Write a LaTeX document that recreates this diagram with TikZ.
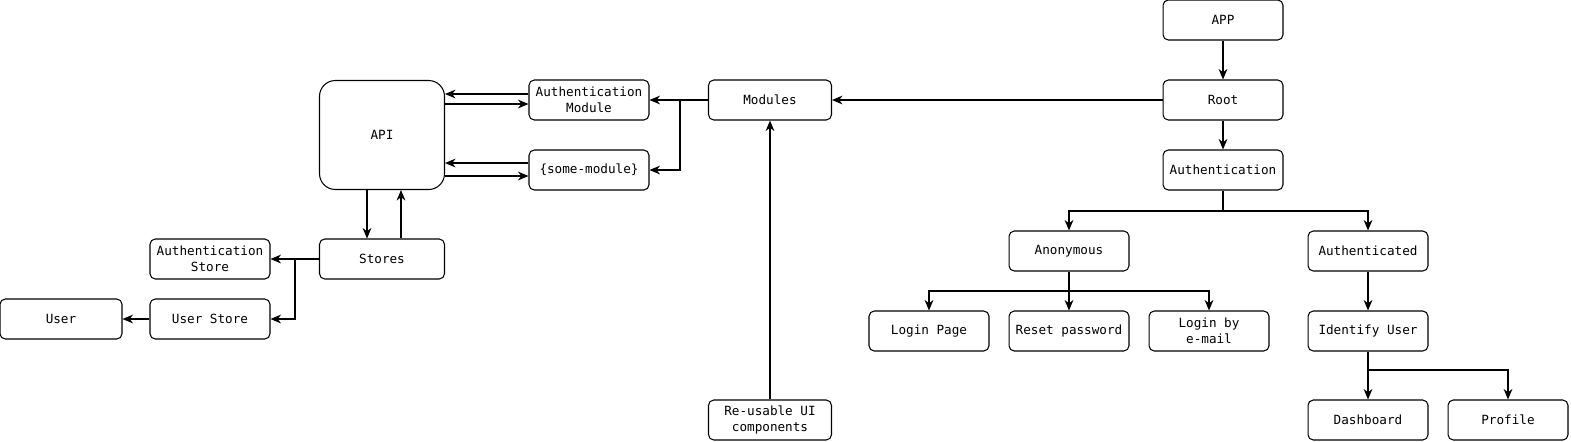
\documentclass[tikz,border=0pt]{standalone}
\usepackage{fontspec}
\setmonofont{DejaVu Sans Mono}
\usetikzlibrary{arrows.meta}

\begin{document}
\begin{tikzpicture}[x=0.02cm, y=-0.02cm, line width=0.6pt, >={Stealth[length=6pt, width=5pt]},
    box/.style={draw, rounded corners=3pt, minimum width=2.4cm, minimum height=0.8cm,
        align=center, inner sep=1pt, font=\ttfamily\fontsize{7.2}{9}\selectfont}]
    \useasboundingbox (0, 0) rectangle (1571, 441);

    % App tree
    \node[box] (app) at (1223, 20) {APP};
    \node[box] (root) at (1223, 100) {Root};
    \node[box] (auth) at (1223, 170) {Authentication};
    \node[box] (anon) at (1069, 251) {Anonymous};
    \node[box] (authd) at (1368, 251) {Authenticated};
    \node[box] (loginpage) at (929, 331) {Login Page};
    \node[box] (reset) at (1069, 331) {Reset password};
    \node[box] (loginmail) at (1209, 331) {Login by\\e-mail};
    \node[box] (identify) at (1368, 331) {Identify User};
    \node[box] (dashboard) at (1368, 420) {Dashboard};
    \node[box] (profile) at (1508, 420) {Profile};

    % Modules
    \node[box, minimum width=2.46cm] (modules) at (770, 100) {Modules};
    \node[box, minimum width=2.46cm] (reusable) at (770, 420) {Re-usable UI\\components};
    \node[box] (authmod) at (589, 100) {Authentication\\Module};
    \node[box] (somemod) at (589, 170) {\{some-module\}};

    % API and stores
    \node[box, rounded corners=9pt, minimum width=2.5cm, minimum height=2.18cm] (api) at (382, 135) {API};
    \node[box, minimum width=2.5cm] (stores) at (382, 259) {Stores};
    \node[box] (authstore) at (210, 259) {Authentication\\Store};
    \node[box] (userstore) at (210, 319) {User Store};
    \node[box, minimum width=2.44cm] (user) at (61, 319) {User};

    % Split points
    \coordinate (authsplit) at (1223, 211);
    \coordinate (anonsplit) at (1069, 291);
    \coordinate (idsplit) at (1368, 370);
    \coordinate (modsplit) at (680, 100);
    \coordinate (storesplit) at (295, 259);

    \draw[->] (app) -- (root);
    \draw[->] (root) -- (auth);
    \draw[->] (root) -- (modules);
    \draw (auth) -- (authsplit);
    \draw[->] (authsplit) -| (anon);
    \draw[->] (authsplit) -| (authd);
    \draw[->] (anon) -- (reset);
    \draw[->] (anonsplit) -| (loginpage);
    \draw[->] (anonsplit) -| (loginmail);
    \draw[->] (authd) -- (identify);
    \draw[->] (identify) -- (dashboard);
    \draw[->] (idsplit) -| (profile);

    \draw[->] (reusable) -- (modules);
    \draw (modules) -- (modsplit);
    \draw[->] (modsplit) -- (authmod);
    \draw[->] (modsplit) |- (somemod);

    % Both ways between API and modules
    \draw[->] ([yshift=0.12cm]authmod.west) -- ([yshift=0.12cm]authmod.west -| api.east);
    \draw[->] ([yshift=-0.08cm]authmod.west -| api.east) -- ([yshift=-0.08cm]authmod.west);
    \draw[->] ([yshift=0.14cm]somemod.west) -- ([yshift=0.14cm]somemod.west -| api.east);
    \draw[->] ([yshift=-0.12cm]somemod.west -| api.east) -- ([yshift=-0.12cm]somemod.west);

    % API and stores
    \draw[->] ([xshift=-0.3cm]api.south) -- ([xshift=-0.3cm]stores.north);
    \draw[->] ([xshift=0.38cm]stores.north) -- ([xshift=0.38cm]api.south);
    \draw (stores) -- (storesplit);
    \draw[->] (storesplit) -- (authstore);
    \draw[->] (storesplit) |- (userstore);
    \draw[->] (userstore) -- (user);
\end{tikzpicture}
\end{document}
